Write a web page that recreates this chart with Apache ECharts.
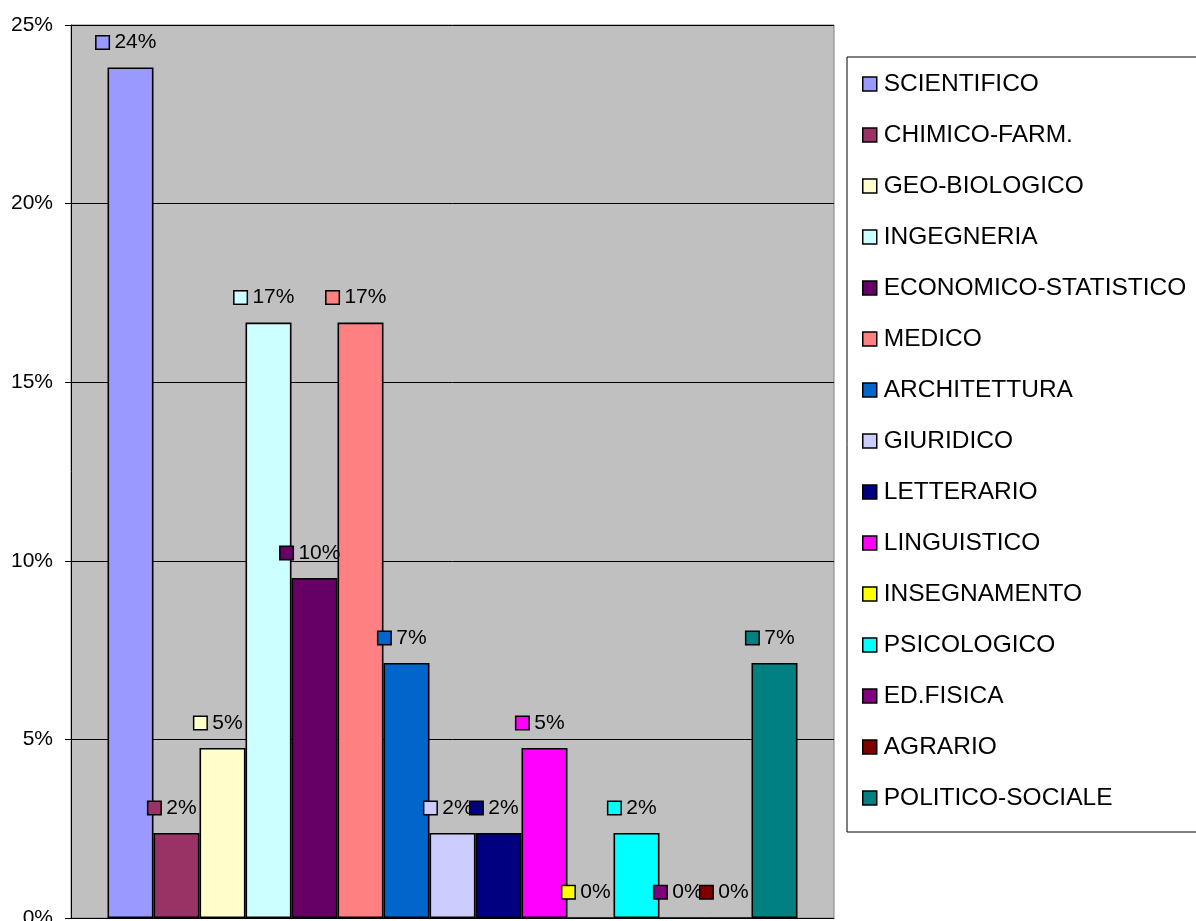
<!DOCTYPE html>
<html>
<head>
<meta charset="utf-8">
<script src="https://cdn.jsdelivr.net/npm/echarts@6/dist/echarts.min.js"></script>
<style>html,body{margin:0;padding:0;background:#fff;overflow:hidden}#c{width:1196px;height:921px}</style>
</head>
<body>
<div id="c"></div>
<script>
const seriesNames = ['SCIENTIFICO','CHIMICO-FARM.','GEO-BIOLOGICO','INGEGNERIA','ECONOMICO-STATISTICO','MEDICO','ARCHITETTURA','GIURIDICO','LETTERARIO','LINGUISTICO','INSEGNAMENTO','PSICOLOGICO','ED.FISICA','AGRARIO','POLITICO-SOCIALE'];
const seriesValues = [23.81, 2.38, 4.76, 16.67, 9.52, 16.67, 7.14, 2.38, 2.38, 4.76, 0, 2.38, 0, 0, 7.14];
const seriesColors = ['#9999FF','#993366','#FFFFCC','#CCFFFF','#660066','#FF8080','#0066CC','#CCCCFF','#000080','#FF00FF','#FFFF00','#00FFFF','#800080','#800000','#008080'];
const categories = [''];
const yTicks = [0, 5, 10, 15, 20, 25];

const FONT = 'Arial, "Liberation Sans", sans-serif';
const chart = echarts.init(document.getElementById('c'), null, {renderer: 'canvas'});

const series = seriesNames.map((name, i) => ({
  name: name,
  type: 'bar',
  data: [seriesValues[i]],
  barWidth: 46,
  barGap: '0%',
  itemStyle: {color: seriesColors[i], borderColor: '#000', borderWidth: 1.6},
  label: {
    show: true,
    position: 'top',
    distance: 14,
    offset: [-4, 0],
    formatter: p => '{sq|} {t|' + Math.round(p.value) + '%}',
    rich: {
      sq: {width: 12, height: 12, backgroundColor: seriesColors[i], borderColor: '#000', borderWidth: 1.5},
      t: {fontSize: 21, fontFamily: FONT, color: '#000', lineHeight: 22}
    },
    fontSize: 21,
    fontFamily: FONT,
    color: '#000',
    lineHeight: 22
  },
  emphasis: {disabled: true},
  animation: false
}));

chart.setOption({
  animation: false,
  grid: {left: 71, top: 25, right: 362, bottom: 3, outerBoundsMode: 'none', containLabel: false, show: true, backgroundColor: '#C0C0C0', borderColor: '#808080', borderWidth: 1},
  xAxis: {
    type: 'category',
    data: categories,
    axisLine: {show: true, lineStyle: {color: '#000', width: 1}},
    axisTick: {show: false},
    axisLabel: {show: false},
    splitLine: {show: false}
  },
  yAxis: {
    type: 'value',
    min: yTicks[0],
    max: yTicks[yTicks.length - 1],
    interval: 5,
    axisLine: {show: true, lineStyle: {color: '#000', width: 1}},
    axisTick: {show: true, length: 6, lineStyle: {color: '#000'}},
    axisLabel: {formatter: v => v + '%', fontSize: 21, fontFamily: FONT, color: '#000', margin: 18},
    splitLine: {show: true, lineStyle: {color: '#000', width: 1}}
  },
  legend: {
    orient: 'vertical',
    left: 847,
    top: 57,
    padding: [13, 20, 20, 15],
    itemGap: 23,
    itemWidth: 14,
    itemHeight: 14,
    icon: 'rect',
    borderColor: '#000',
    borderWidth: 1,
    backgroundColor: '#fff',
    data: seriesNames,
    itemStyle: {borderColor: '#000', borderWidth: 1.5},
    textStyle: {fontSize: 24.5, fontFamily: FONT, color: '#000', lineHeight: 28, padding: [0, 0, 0, 2]},
    selectedMode: false
  },
  series: series
});
</script>
</body>
</html>
